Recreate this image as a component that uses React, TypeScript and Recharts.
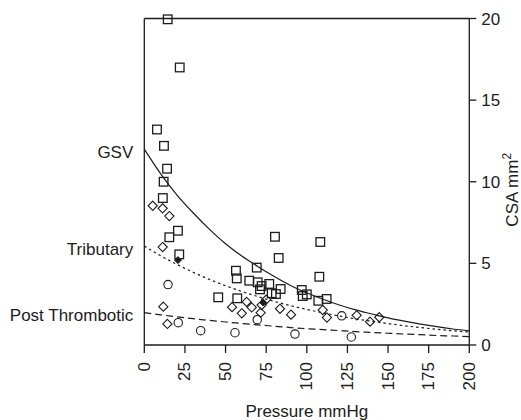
import React from "react";
import { ComposedChart, Line, Scatter, XAxis, YAxis, ReferenceLine } from "recharts";

const FONT = '"Liberation Sans", Arial, Helvetica, sans-serif';
const INK = "#1c1c1c";

// fitted curves, every 10 mmHg
const curveX = [0, 10, 20, 30, 40, 50, 60, 70, 80, 90, 100, 110, 120, 130, 140, 150, 160, 170, 180, 190, 200];
const gsvCurve = [12.0, 10.5, 9.2, 8.1, 7.1, 6.2, 5.45, 4.8, 4.2, 3.65, 3.2, 2.8, 2.45, 2.15, 1.9, 1.66, 1.46, 1.28, 1.12, 0.98, 0.86];
const tribCurve = [6.06, 5.47, 4.94, 4.46, 4.02, 3.63, 3.28, 2.96, 2.67, 2.41, 2.18, 1.97, 1.78, 1.6, 1.45, 1.31, 1.18, 1.07, 0.96, 0.87, 0.79];
const postCurve = [1.98, 1.85, 1.73, 1.61, 1.51, 1.41, 1.32, 1.23, 1.15, 1.07, 1.0, 0.94, 0.88, 0.82, 0.77, 0.72, 0.67, 0.63, 0.58, 0.55, 0.51];

// measured points
const gsvX = [14.4, 21.8, 7.8, 12.1, 14.0, 11.9, 11.4, 20.7, 15.4, 21.5, 56.4, 56.9, 45.5, 57.2, 64.6, 69.2, 69.8, 72.2, 71.2, 76.9, 80.4, 82.7, 83.9, 78.4, 81.0, 96.9, 100.0, 97.5, 108.3, 107.7, 107.1, 112.2];
const gsvY = [19.95, 17.0, 13.2, 12.2, 10.8, 10.0, 9.0, 7.0, 6.6, 5.55, 4.55, 4.08, 2.92, 2.86, 3.94, 4.74, 3.84, 3.61, 3.41, 3.74, 6.63, 5.33, 3.43, 3.17, 3.12, 3.37, 3.1, 3.0, 6.31, 4.18, 2.71, 2.82];
const tribX = [5.2, 11.3, 15.4, 11.3, 11.7, 14.2, 54.0, 60.0, 63.0, 66.1, 71.6, 72.2, 75.0, 83.5, 90.3, 109.8, 112.4, 130.7, 138.9, 144.6];
const tribY = [8.53, 8.37, 7.9, 6.0, 2.35, 1.29, 2.32, 1.94, 2.64, 2.3, 1.98, 2.45, 2.78, 2.22, 1.86, 2.14, 1.68, 1.82, 1.43, 1.7];
const postX = [14.6, 20.9, 34.7, 55.8, 69.5, 92.7, 121.5, 127.4];
const postY = [3.7, 1.37, 0.88, 0.75, 1.55, 0.67, 1.79, 0.49];
const meanX = [20.7, 73.2];
const meanY = [5.2, 2.6];

const xTicks = [0, 25, 50, 75, 100, 125, 150, 175, 200];
const yTicks = [0, 5, 10, 15, 20];

const toPoints = (xs: number[], ys: number[]) => xs.map((x, i) => ({ x, y: ys[i] }));

const Square = ({ cx, cy }: any) => (
  <rect x={cx - 4.3} y={cy - 4.3} width={8.6} height={8.6} fill="none" stroke={INK} strokeWidth={1.3} />
);
const Diamond = ({ cx, cy }: any) => (
  <path d={`M${cx},${cy - 4.6}L${cx + 4.6},${cy}L${cx},${cy + 4.6}L${cx - 4.6},${cy}Z`} fill="none" stroke={INK} strokeWidth={1.1} />
);
const Circle = ({ cx, cy }: any) => <circle cx={cx} cy={cy} r={4.2} fill="none" stroke={INK} strokeWidth={1.1} />;
const Filled = ({ cx, cy }: any) => (
  <path d={`M${cx},${cy - 3.5}L${cx + 3.5},${cy}L${cx},${cy + 3.5}L${cx - 3.5},${cy}Z`} fill={INK} stroke={INK} strokeWidth={1} />
);

// name written left of the axis, at the start of each curve
const startLabel = (name: string) => (props: any) => {
  const { cx, cy, index } = props;
  if (index !== 0) return <g key={`d${index}`} />;
  return (
    <text key="lbl" x={cx - 11} y={cy + 3} textAnchor="end" dominantBaseline="central" fontSize={17} fontFamily={FONT} fill={INK}>
      {name}
    </text>
  );
};

const XTick = ({ x, y, payload }: any) => (
  <text x={x} y={y} transform={`rotate(-90, ${x}, ${y})`} textAnchor="end" dominantBaseline="central" fontSize={17} fontFamily={FONT} fill={INK}>
    {payload.value}
  </text>
);

const xLabel = (props: any) => {
  const vb = props.viewBox;
  return (
    <text x={vb.x + vb.width / 2} y={vb.y + vb.height - 3} textAnchor="middle" fontSize={17} fontFamily={FONT} fill={INK}>
      Pressure mmHg
    </text>
  );
};

const yLabel = (props: any) => {
  const vb = props.viewBox;
  const cx = vb.x + vb.width - 3;
  const cy = vb.y + vb.height / 2 + 8;
  return (
    <text x={cx} y={cy} transform={`rotate(-90, ${cx}, ${cy})`} textAnchor="middle" fontSize={17} fontFamily={FONT} fill={INK}>
      CSA mm<tspan dy={-7} fontSize={12}>2</tspan>
    </text>
  );
};

export default function App() {
  const gsvLine = toPoints(curveX, gsvCurve);
  const tribLine = toPoints(curveX, tribCurve);
  const postLine = toPoints(curveX, postCurve);

  return (
    <div style={{ position: "absolute", left: 0, top: 0, width: 521, height: 420, background: "#fff" }}>
      <ComposedChart width={521} height={420} margin={{ top: 18.5, right: 0, bottom: 0, left: 144.3 }}>
        <XAxis
          type="number"
          dataKey="x"
          domain={[0, 200]}
          ticks={xTicks}
          height={75}
          tickSize={8}
          tickMargin={9}
          tick={<XTick />}
          stroke={INK}
          tickLine={{ stroke: INK, strokeWidth: 1.3 }}
          axisLine={{ stroke: INK, strokeWidth: 1.3 }}
          label={xLabel}
        />
        <YAxis
          type="number"
          dataKey="y"
          orientation="right"
          domain={[0, 20]}
          ticks={yTicks}
          width={51.7}
          tickSize={7}
          tickMargin={5}
          tick={{ fill: INK, fontSize: 17, fontFamily: FONT }}
          stroke={INK}
          tickLine={{ stroke: INK, strokeWidth: 1.3 }}
          axisLine={{ stroke: INK, strokeWidth: 1.3 }}
          label={yLabel}
        />
        <ReferenceLine y={20} stroke={INK} strokeWidth={1.3} />
        <ReferenceLine x={0} stroke={INK} strokeWidth={1.3} />
        <Line data={gsvLine} dataKey="y" type="monotone" stroke={INK} strokeWidth={1.2} dot={startLabel("GSV")} activeDot={false} isAnimationActive={false} />
        <Line data={tribLine} dataKey="y" type="monotone" stroke={INK} strokeWidth={1.2} strokeDasharray="2.5 3" dot={startLabel("Tributary")} activeDot={false} isAnimationActive={false} />
        <Line data={postLine} dataKey="y" type="monotone" stroke={INK} strokeWidth={1.2} strokeDasharray="7 4" dot={startLabel("Post Thrombotic")} activeDot={false} isAnimationActive={false} />
        <Scatter data={toPoints(gsvX, gsvY)} shape={<Square />} isAnimationActive={false} />
        <Scatter data={toPoints(tribX, tribY)} shape={<Diamond />} isAnimationActive={false} />
        <Scatter data={toPoints(postX, postY)} shape={<Circle />} isAnimationActive={false} />
        <Scatter data={toPoints(meanX, meanY)} shape={<Filled />} isAnimationActive={false} />
      </ComposedChart>
    </div>
  );
}
